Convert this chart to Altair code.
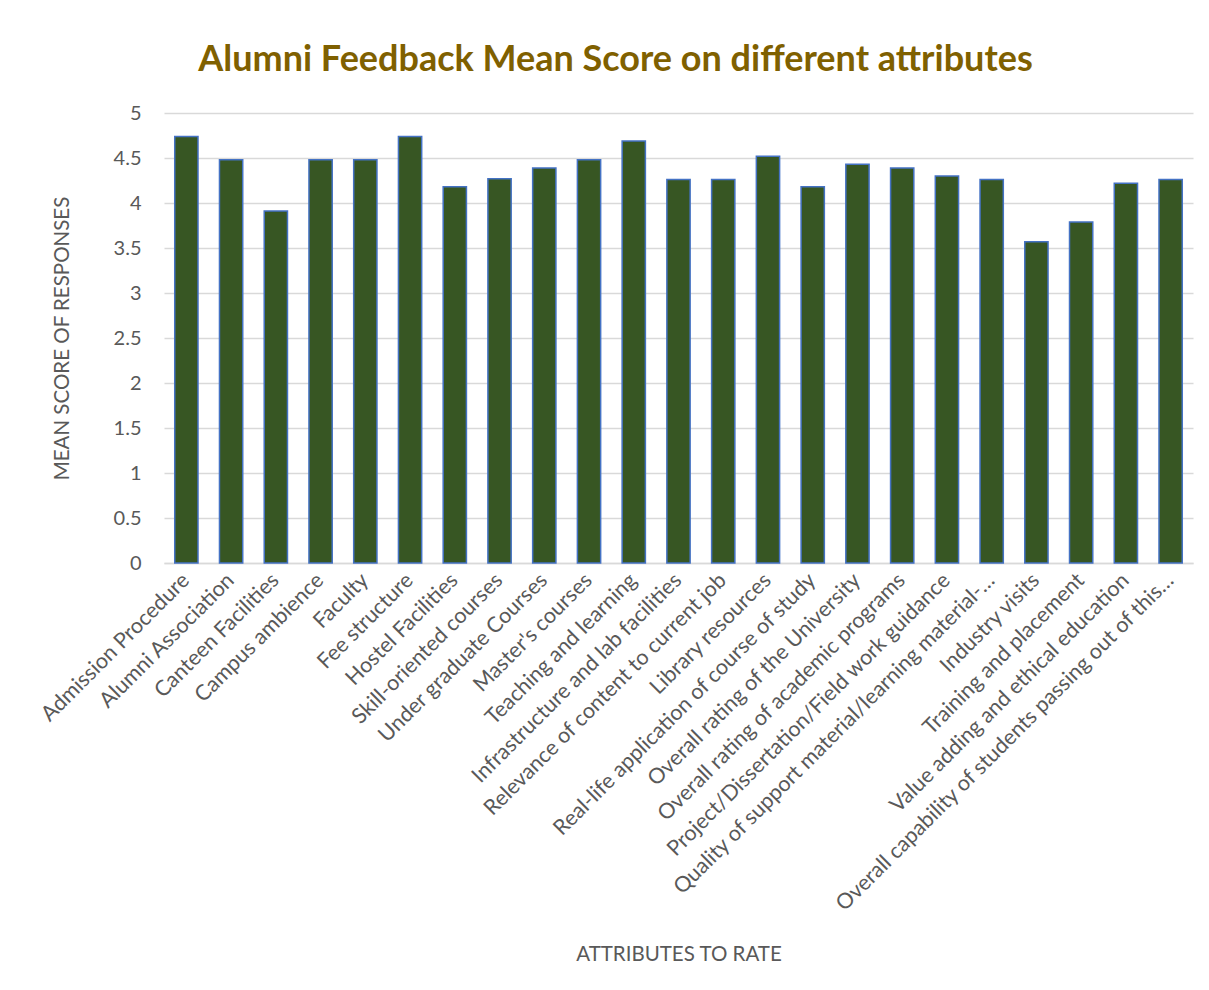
import altair as alt
import pandas as pd

attributes = [
    "Admission Procedure", "Alumni Association", "Canteen Facilities", "Campus ambience",
    "Faculty", "Fee structure", "Hostel Facilities", "Skill-oriented courses",
    "Under graduate Courses", "Master's courses", "Teaching and learning",
    "Infrastructure and lab facilities", "Relevance of content to current job",
    "Library resources", "Real-life application of course of study",
    "Overall rating of the University", "Overall rating of academic programs",
    "Project/Dissertation/Field work guidance",
    "Quality of support material/learning material-…", "Industry visits",
    "Training and placement", "Value adding and ethical education",
    "Overall capability of students passing out of this…",
]
scores = [4.74, 4.48, 3.91, 4.48, 4.48, 4.74, 4.18, 4.27, 4.39, 4.48, 4.69, 4.26,
          4.26, 4.52, 4.18, 4.43, 4.39, 4.30, 4.26, 3.57, 3.79, 4.22, 4.26]
y_ticks = [0, 0.5, 1, 1.5, 2, 2.5, 3, 3.5, 4, 4.5, 5]

df = pd.DataFrame({"attr": attributes, "score": scores})

FONT = "Lato"
GREY = "#595959"

chart = alt.Chart(df).mark_bar(
    color="#375623", stroke="#4472C4", strokeWidth=1.5
).encode(
    x=alt.X("attr:N", sort=attributes, title="ATTRIBUTES TO RATE",
            scale=alt.Scale(paddingInner=0.48, paddingOuter=0.24),
            axis=alt.Axis(labelAngle=-45, labelAlign="right", labelBaseline="middle",
                          labelFontSize=21.5, labelColor=GREY, labelFont=FONT,
                          labelLimit=0, labelPadding=14, ticks=False,
                          domainColor="#D9D9D9", domainWidth=1.5,
                          titleFont=FONT, titleFontSize=20.5, titleColor=GREY,
                          titleFontWeight="normal", titleY=391, titleBaseline="middle")),
    y=alt.Y("score:Q", title="MEAN SCORE OF RESPONSES",
            scale=alt.Scale(domain=[0, 5]),
            axis=alt.Axis(values=y_ticks, format="~g", labelFontSize=20, labelColor=GREY,
                          labelFont=FONT, ticks=False, domain=False, labelPadding=23,
                          gridColor="#D9D9D9", gridWidth=1.5,
                          titleFont=FONT, titleFontSize=20.5, titleColor=GREY,
                          titleFontWeight="normal", titlePadding=41)),
).properties(
    width=1029, height=450,
    title=alt.TitleParams("Alumni Feedback Mean Score on different attributes",
                          font=FONT, fontSize=36, fontWeight="bold", color="#7F6000",
                          anchor="middle", dx=-63, offset=24),
    autosize=alt.AutoSizeParams(type="none"),
    padding={"left": 156, "top": 105, "right": 8, "bottom": 410},
).configure_view(stroke=None)

chart.save("out.html", embed_options={"renderer": "svg", "actions": False})
